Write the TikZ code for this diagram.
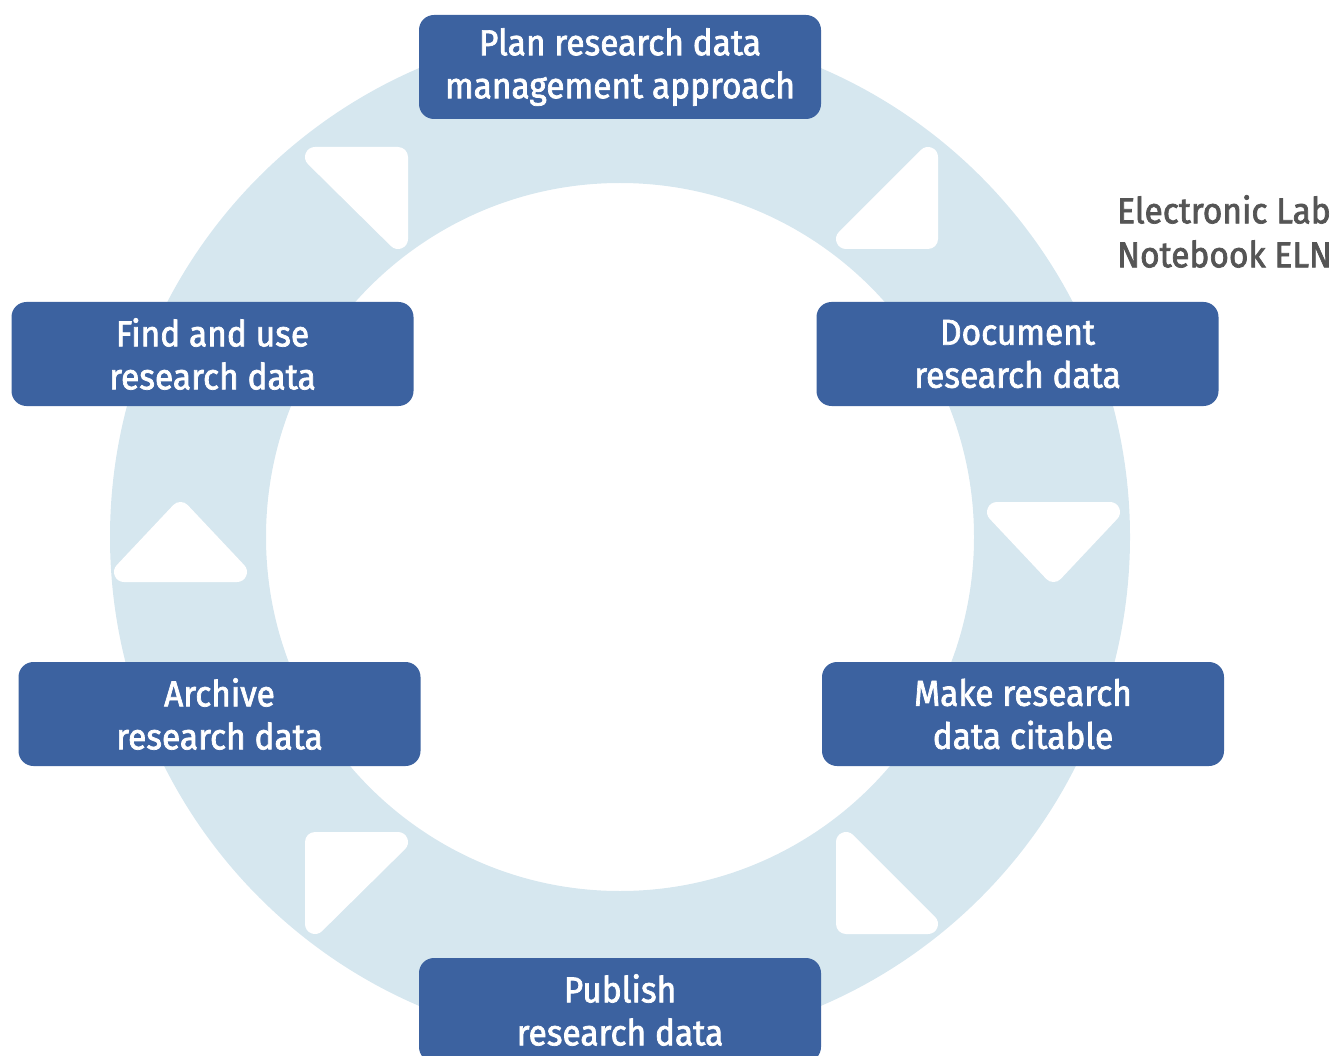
\documentclass[tikz,border=0pt]{standalone}
\usepackage{fontspec}
\setmainfont{Fira Sans}
\newfontfamily\stagefont{Fira Sans}[FakeBold=2,FakeStretch=0.93]
\usepackage{tikz}
\usetikzlibrary{positioning}
\definecolor{ringblue}{HTML}{D6E7EF}
\definecolor{boxblue}{HTML}{3C62A0}
\definecolor{elngray}{HTML}{555555}
\tikzset{
  stage/.style={fill=boxblue,rounded corners=15pt,minimum width=402pt,minimum height=104pt,
    text=white,align=center,font=\stagefont\fontsize{36}{43}\selectfont},
  tip/.style={fill=white,draw=white,line width=20pt,line join=round}
}
\newcommand{\flowtip}[3]{
  % white arrow on the ring
  \filldraw[tip] #1 -- #2 -- #3 -- cycle;
}
\begin{document}
\begin{tikzpicture}[x=1pt,y=-1pt]
\useasboundingbox (0,0) rectangle (1333,1056);

% ring
\fill[ringblue,even odd rule] (620,537) circle[radius=510] (620,537) circle[radius=354];

% arrows
\flowtip{(315,157)}{(398,157)}{(398,239)}
\flowtip{(928,157)}{(928,239)}{(846,239)}
\flowtip{(997,512)}{(1110,512)}{(1053.5,572)}
\flowtip{(124,572)}{(237,572)}{(180.5,512)}
\flowtip{(315,842)}{(398,842)}{(315,924)}
\flowtip{(846,842)}{(846,924)}{(928,924)}

% stages
\node[stage] (plan) at (620,67) {Plan research data\\management approach};
\node[stage] (document) at (1017.5,354) {Document\\research data};
\node[stage] (cite) at (1023,714) {Make research\\data citable};
\node[stage] (publish) at (620,1010) {Publish\\research data};
\node[stage] (archive) at (219.5,714) {Archive\\research data};
\node[stage] (find) at (212.5,354) {Find and use\\research data};

\node[anchor=north west,align=left,text=elngray,inner sep=0pt,
  font=\stagefont\fontsize{36}{44}\selectfont] (eln) at (1117,195) {Electronic Lab\\Notebook ELN};
\end{tikzpicture}
\end{document}
